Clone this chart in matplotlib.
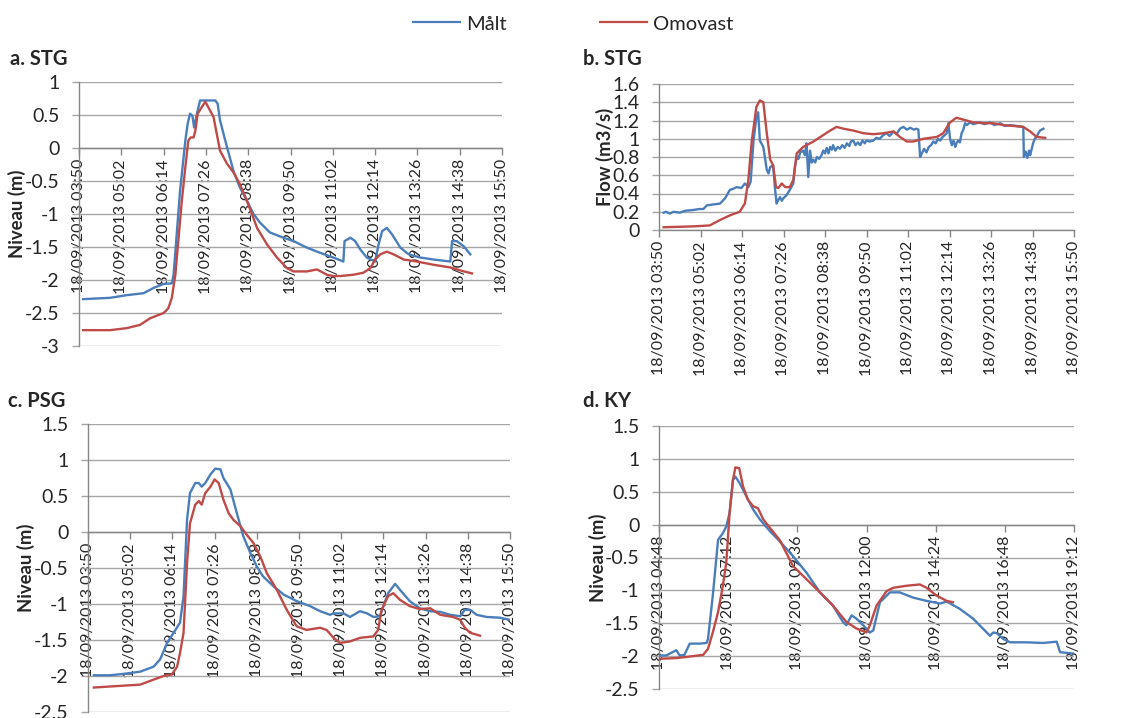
import matplotlib
matplotlib.use("Agg")
import matplotlib.pyplot as plt
from matplotlib.ticker import FixedLocator, FuncFormatter, MultipleLocator
from matplotlib.lines import Line2D

plt.rcParams['font.family'] = ['Lato', 'DejaVu Sans']
plt.rcParams['axes.unicode_minus'] = False

BLUE = '#4A7EBB'
RED = '#BE4B48'
GRID = '#A6A6A6'
AXC = '#868686'
TXT = '#262626'

# ---------------- data (time in minutes since midnight, 18/09/2013) ----------
# a. STG water level
a_malt_t = [237, 283, 311, 340, 357, 374, 388, 391, 402, 411, 415, 419, 423, 426, 430, 436, 462, 466,
            470, 482, 493, 504, 516, 527, 538, 555, 578, 595, 618, 641, 663, 680, 682, 692, 700, 709,
            720, 734, 740, 746, 754, 763, 777, 791, 811, 834, 862, 865, 873, 885, 896]
a_malt_v = [-2.29, -2.27, -2.23, -2.20, -2.12, -2.06, -2.05, -1.92, -0.65, 0.11, 0.37, 0.52, 0.49, 0.31,
            0.49, 0.72, 0.72, 0.67, 0.42, 0.01, -0.35, -0.60, -0.80, -1.00, -1.13, -1.28, -1.36, -1.41,
            -1.51, -1.59, -1.66, -1.72, -1.41, -1.36, -1.41, -1.54, -1.66, -1.72, -1.46, -1.26, -1.21,
            -1.31, -1.51, -1.61, -1.66, -1.69, -1.72, -1.41, -1.41, -1.49, -1.61]
a_omo_t = [237, 283, 311, 334, 351, 374, 382, 388, 394, 399, 405, 411, 416, 420, 425, 428, 432, 439,
           445, 450, 459, 470, 482, 493, 504, 518, 533, 550, 567, 584, 595, 618, 635, 652, 663, 675,
           697, 714, 726, 734, 743, 754, 765, 783, 805, 834, 862, 885, 899]
a_omo_v = [-2.76, -2.76, -2.73, -2.68, -2.58, -2.50, -2.43, -2.27, -1.92, -1.41, -0.80, -0.29, 0.11,
           0.16, 0.16, 0.26, 0.52, 0.62, 0.70, 0.62, 0.47, -0.04, -0.24, -0.37, -0.55, -0.85, -1.21,
           -1.46, -1.66, -1.82, -1.87, -1.87, -1.84, -1.92, -1.94, -1.94, -1.92, -1.89, -1.82, -1.69,
           -1.61, -1.57, -1.61, -1.69, -1.72, -1.77, -1.81, -1.87, -1.90]

# b. STG flow
b_malt_t = [238, 242, 249, 255, 266, 275, 290, 300, 307, 313,
            325, 336, 345, 353, 358, 365, 373, 379, 385, 389,
            394, 399, 402, 405, 411, 417, 420, 423, 428, 431,
            434, 437, 440, 443, 446, 451, 457, 463, 466, 469,
            472, 475, 480, 483, 486, 489, 492, 495, 498, 501,
            504, 508, 512, 515, 518, 521, 524, 527, 530, 532,
            536, 540, 544, 548, 552, 556, 560, 563, 567, 571,
            575, 579, 583, 587, 590, 595, 602, 607, 613, 619,
            625, 630, 637, 642, 648, 654, 660, 666, 672, 677,
            680, 683, 686, 690, 694, 698, 702, 706, 710, 714,
            718, 722, 726, 729, 732, 735, 738, 741, 744, 746,
            749, 752, 755, 758, 761, 764, 770, 775, 781, 787,
            795, 804, 812, 822, 830, 839, 850, 862, 863, 866,
            869, 872, 874, 877, 879, 882, 885, 888, 891, 894,
            897]
b_malt_v = [0.19, 0.20, 0.18, 0.20, 0.19, 0.21, 0.22, 0.23, 0.23, 0.27,
            0.28, 0.29, 0.35, 0.44, 0.45, 0.47, 0.46, 0.51, 0.47, 0.53,
            0.98, 1.24, 1.29, 0.98, 0.91, 0.66, 0.62, 0.69, 0.71, 0.47,
            0.29, 0.33, 0.36, 0.32, 0.35, 0.38, 0.44, 0.51, 0.70, 0.80,
            0.78, 0.85, 0.87, 0.82, 0.95, 0.58, 0.87, 0.74, 0.77, 0.74,
            0.80, 0.78, 0.82, 0.87, 0.84, 0.90, 0.84, 0.91, 0.88, 0.93,
            0.87, 0.91, 0.89, 0.93, 0.90, 0.95, 0.92, 0.97, 0.98, 0.93,
            0.96, 0.93, 0.98, 0.95, 0.98, 0.97, 0.98, 1.01, 1.00, 1.04,
            1.06, 1.03, 1.08, 1.05, 1.11, 1.13, 1.10, 1.12, 1.10, 1.11,
            1.10, 0.80, 0.84, 0.89, 0.85, 0.91, 0.93, 0.97, 0.95, 1.00,
            0.98, 1.02, 1.04, 1.06, 1.17, 1.00, 0.93, 0.98, 0.91, 0.95,
            0.98, 0.96, 1.06, 1.10, 1.17, 1.15, 1.18, 1.16, 1.17, 1.18,
            1.16, 1.18, 1.15, 1.17, 1.14, 1.15, 1.14, 1.13, 0.80, 0.86,
            0.79, 0.87, 0.82, 0.90, 0.95, 1.00, 1.02, 1.06, 1.09, 1.10,
            1.11]
b_omo_t = [238, 290, 318, 336, 353, 370, 379, 385, 391, 399, 405, 411, 417, 423, 428, 433, 437, 443,
           449, 457, 463, 469, 480, 498, 515, 527, 538, 550, 567, 585, 602, 619, 637, 648, 660, 671,
           689, 712, 723, 735, 746, 758, 775, 793, 810, 827, 845, 862, 874, 885, 900]
b_omo_v = [0.03, 0.04, 0.05, 0.11, 0.16, 0.20, 0.29, 0.55, 0.98, 1.35, 1.42, 1.40, 1.06, 0.77, 0.71,
           0.47, 0.46, 0.51, 0.47, 0.47, 0.55, 0.84, 0.91, 0.97, 1.04, 1.09, 1.13, 1.11, 1.09, 1.06,
           1.05, 1.06, 1.08, 1.02, 0.97, 0.97, 1.00, 1.02, 1.06, 1.18, 1.23, 1.21, 1.18, 1.17, 1.17,
           1.15, 1.14, 1.13, 1.08, 1.02, 1.01]

# c. PSG water level
c_malt_t = [240, 268, 291, 319, 342, 353, 365, 376, 387, 393, 399, 404, 413, 419, 424, 430, 439, 447,
            456, 461, 473, 484, 495, 507, 518, 529, 546, 564, 586, 609, 626, 643, 649, 666, 677, 694,
            706, 717, 728, 742, 754, 762, 779, 796, 814, 831, 848, 865, 873, 882, 893, 910, 933, 950]
c_malt_v = [-1.99, -1.99, -1.97, -1.94, -1.87, -1.77, -1.54, -1.40, -1.26, -0.89, 0.17, 0.54, 0.68,
            0.68, 0.63, 0.68, 0.80, 0.88, 0.87, 0.75, 0.59, 0.26, -0.06, -0.29, -0.48, -0.62, -0.75,
            -0.87, -0.96, -1.03, -1.10, -1.15, -1.13, -1.13, -1.18, -1.10, -1.13, -1.18, -1.17, -0.85,
            -0.72, -0.80, -0.96, -1.06, -1.10, -1.11, -1.15, -1.17, -1.08, -1.08, -1.15, -1.18, -1.19,
            -1.22]
c_omo_t = [240, 279, 319, 342, 359, 373, 382, 387, 393, 399, 404, 413, 419, 424, 430, 439, 446, 453,
           461, 470, 478, 490, 501, 512, 524, 535, 552, 569, 586, 603, 626, 637, 649, 660, 677, 694,
           717, 725, 731, 742, 751, 762, 779, 796, 814, 831, 853, 865, 873, 882, 899]
c_omo_v = [-2.16, -2.14, -2.12, -2.05, -2.00, -1.98, -1.87, -1.68, -1.40, -0.43, 0.12, 0.38, 0.43,
           0.38, 0.54, 0.63, 0.73, 0.68, 0.45, 0.26, 0.17, 0.08, -0.04, -0.15, -0.34, -0.57, -0.80,
           -1.08, -1.31, -1.36, -1.33, -1.36, -1.47, -1.54, -1.52, -1.47, -1.45, -1.36, -1.08, -0.89,
           -0.85, -0.94, -1.03, -1.07, -1.06, -1.15, -1.18, -1.22, -1.33, -1.40, -1.44]

# d. KY water level
d_malt_t = [289, 303, 324, 331, 341, 352, 373, 387, 390, 400, 411, 421, 428, 435, 442, 447, 456, 470,
            484, 498, 519, 539, 567, 595, 623, 650, 671, 678, 689, 699, 713, 727, 734, 748, 769, 789,
            817, 845, 873, 887, 914, 942, 977, 984, 991, 1005, 1019, 1053, 1088, 1116, 1123, 1150]
d_malt_v = [-1.99, -1.99, -1.91, -1.99, -1.98, -1.81, -1.81, -1.80, -1.74, -1.08, -0.23, -0.13, -0.03,
            0.18, 0.68, 0.73, 0.63, 0.43, 0.23, 0.08, -0.10, -0.25, -0.48, -0.73, -1.03, -1.23, -1.48,
            -1.53, -1.38, -1.43, -1.53, -1.64, -1.61, -1.18, -1.03, -1.03, -1.11, -1.16, -1.20, -1.17,
            -1.28, -1.43, -1.69, -1.64, -1.65, -1.74, -1.79, -1.79, -1.80, -1.78, -1.94, -1.96]
d_omo_t = [289, 324, 359, 380, 390, 400, 411, 421, 428, 435, 442, 447, 455, 463, 473, 484, 494, 505,
           519, 539, 553, 567, 595, 623, 650, 678, 699, 720, 727, 741, 762, 776, 803, 831, 845, 866,
           887, 900]
d_omo_v = [-2.04, -2.03, -2.00, -1.98, -1.89, -1.64, -1.33, -0.93, -0.58, 0.18, 0.68, 0.87, 0.86,
           0.58, 0.38, 0.28, 0.25, 0.08, -0.05, -0.23, -0.43, -0.63, -0.83, -1.03, -1.23, -1.48, -1.58,
           -1.64, -1.53, -1.23, -1.01, -0.96, -0.93, -0.91, -0.96, -1.08, -1.16, -1.18]

titles = ['a. STG', 'b. STG', 'c. PSG', 'd. KY']
ylabels = ['Niveau (m)', 'Flow (m3/s)', 'Niveau (m)', 'Niveau (m)']
series_names = ['Målt', 'Omovast']
date_prefix = '18/09/2013'

xticks_abc = list(range(230, 951, 72))     # 03:50 ... 15:50
xticks_d = list(range(288, 1153, 144))     # 04:48 ... 19:12

# ---------------- figure ----------------
W, H = 1130, 718
fig = plt.figure(figsize=(W / 100, H / 100), dpi=100)


def px_axes(l, t, r, b):
    return fig.add_axes([l / W, 1 - b / H, (r - l) / W, (b - t) / H])


def fmt_time(v, pos):
    m = int(round(v))
    return f"{date_prefix} {m // 60:02d}:{m % 60:02d}"


TFS = 11.5


def style(ax, xticks, ylim, ystep):
    ax.set_xlim(xticks[0], xticks[-1])
    ax.set_ylim(*ylim)
    ax.xaxis.set_major_locator(FixedLocator(xticks))
    ax.xaxis.set_major_formatter(FuncFormatter(fmt_time))
    ax.yaxis.set_major_locator(MultipleLocator(ystep))
    ax.yaxis.set_major_formatter(FuncFormatter(lambda v, p: f"{round(v, 2):g}"))
    for s in ['top', 'right']:
        ax.spines[s].set_visible(False)
    ax.spines['left'].set_color(AXC)
    ax.spines['bottom'].set_color(AXC)
    ax.spines['bottom'].set_position(('data', 0))
    ax.spines['left'].set_linewidth(1.0)
    ax.spines['bottom'].set_linewidth(1.0)
    ax.grid(axis='y', color=GRID, linewidth=1.0)
    ax.set_axisbelow(True)
    ax.tick_params(axis='x', direction='out', length=5, width=1, color=AXC, pad=3,
                   labelsize=TFS, labelrotation=90, labelcolor=TXT)
    ax.tick_params(axis='y', direction='out', length=5, width=1, color=GRID, pad=9,
                   labelsize=14, labelcolor=TXT)
    ax.set_facecolor('none')


panels = [
    (px_axes(79, 82, 502, 346), xticks_abc, (-3, 1), 0.5,
     a_malt_t, a_malt_v, a_omo_t, a_omo_v, (10, 59), 17),
    (px_axes(659, 84, 1074, 230), xticks_abc, (0, 1.6), 0.2,
     b_malt_t, b_malt_v, b_omo_t, b_omo_v, (583, 59), 605),
    (px_axes(88, 424, 510, 712), xticks_abc, (-2.5, 1.5), 0.5,
     c_malt_t, c_malt_v, c_omo_t, c_omo_v, (8, 401), 26),
    (px_axes(659, 426, 1074, 689), xticks_d, (-2.5, 1.5), 0.5,
     d_malt_t, d_malt_v, d_omo_t, d_omo_v, (583, 401), 598),
]

for i, (ax, xt, yl, ys, mt, mv, ot, ov, tpos, ylx) in enumerate(panels):
    style(ax, xt, yl, ys)
    ax.plot(mt, mv, color=BLUE, lw=1.7, zorder=3)
    ax.plot(ot, ov, color=RED, lw=1.7, zorder=3)
    fig.text(tpos[0] / W, 1 - tpos[1] / H, titles[i], fontsize=14.5, fontweight='bold',
             ha='left', va='center', color=TXT)
    bb = ax.get_position()
    fig.text(ylx / W, bb.y0 + bb.height / 2, ylabels[i], fontsize=13.3, fontweight='bold',
             rotation=90, ha='center', va='center', color=TXT)

handles = [Line2D([], [], color=BLUE, lw=1.6), Line2D([], [], color=RED, lw=1.6)]
fig.legend(handles, series_names, loc='center', bbox_to_anchor=(573 / W, 1 - 24 / H),
           ncol=2, frameon=False, fontsize=14.5, handlelength=2.35, handletextpad=0.3,
           columnspacing=4.6, labelcolor=TXT)

fig.savefig('out.png', dpi=100)
